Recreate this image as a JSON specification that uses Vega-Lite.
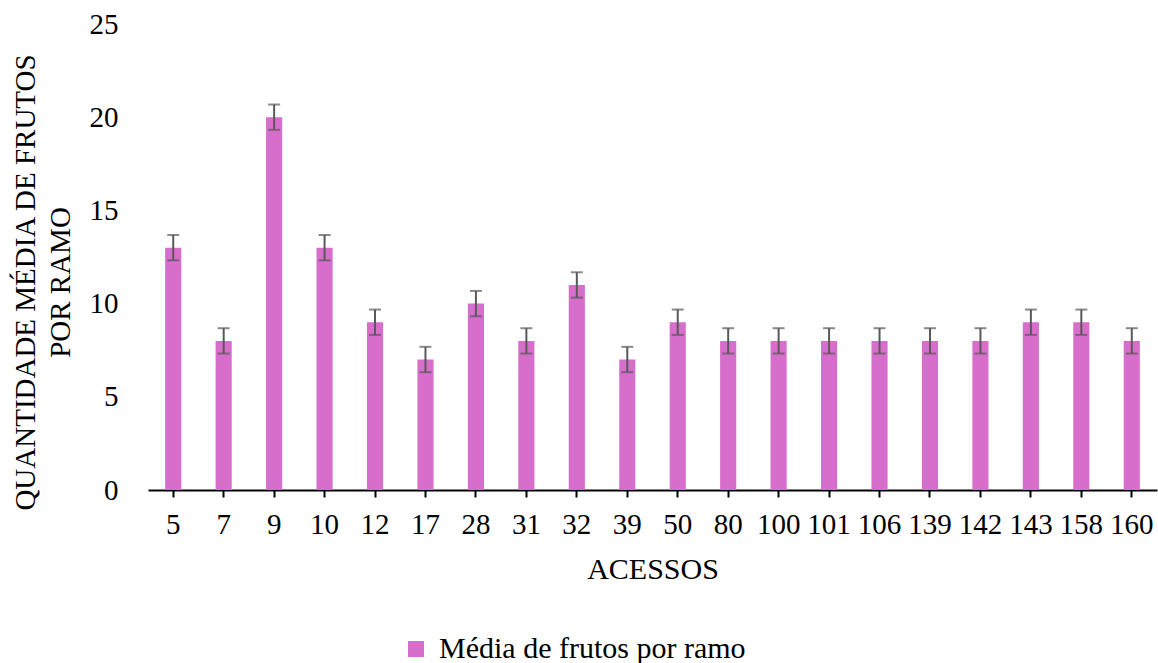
{
  "$schema": "https://vega.github.io/schema/vega-lite/v6.json",
  "width": 1009,
  "height": 466,
  "autosize": {"type": "none"},
  "padding": {"left": 148, "top": 24, "right": 1, "bottom": 173},
  "background": "white",
  "config": {
    "view": {"stroke": null},
    "font": "Liberation Serif",
    "axis": {"labelFont": "Liberation Serif", "titleFont": "Liberation Serif", "labelColor": "black", "titleColor": "black", "titleFontWeight": "normal", "grid": false},
    "legend": {"labelFont": "Liberation Serif", "labelColor": "black"}
  },
  "data": {
    "values": [
      {"acesso": "5", "media": 13, "erro": 0.68, "serie": "Média de frutos por ramo"},
      {"acesso": "7", "media": 8, "erro": 0.68, "serie": "Média de frutos por ramo"},
      {"acesso": "9", "media": 20, "erro": 0.68, "serie": "Média de frutos por ramo"},
      {"acesso": "10", "media": 13, "erro": 0.68, "serie": "Média de frutos por ramo"},
      {"acesso": "12", "media": 9, "erro": 0.68, "serie": "Média de frutos por ramo"},
      {"acesso": "17", "media": 7, "erro": 0.68, "serie": "Média de frutos por ramo"},
      {"acesso": "28", "media": 10, "erro": 0.68, "serie": "Média de frutos por ramo"},
      {"acesso": "31", "media": 8, "erro": 0.68, "serie": "Média de frutos por ramo"},
      {"acesso": "32", "media": 11, "erro": 0.68, "serie": "Média de frutos por ramo"},
      {"acesso": "39", "media": 7, "erro": 0.68, "serie": "Média de frutos por ramo"},
      {"acesso": "50", "media": 9, "erro": 0.68, "serie": "Média de frutos por ramo"},
      {"acesso": "80", "media": 8, "erro": 0.68, "serie": "Média de frutos por ramo"},
      {"acesso": "100", "media": 8, "erro": 0.68, "serie": "Média de frutos por ramo"},
      {"acesso": "101", "media": 8, "erro": 0.68, "serie": "Média de frutos por ramo"},
      {"acesso": "106", "media": 8, "erro": 0.68, "serie": "Média de frutos por ramo"},
      {"acesso": "139", "media": 8, "erro": 0.68, "serie": "Média de frutos por ramo"},
      {"acesso": "142", "media": 8, "erro": 0.68, "serie": "Média de frutos por ramo"},
      {"acesso": "143", "media": 9, "erro": 0.68, "serie": "Média de frutos por ramo"},
      {"acesso": "158", "media": 9, "erro": 0.68, "serie": "Média de frutos por ramo"},
      {"acesso": "160", "media": 8, "erro": 0.68, "serie": "Média de frutos por ramo"}
    ]
  },
  "encoding": {
    "x": {
      "field": "acesso", "type": "nominal", "sort": null,
      "scale": {"paddingInner": 0.68, "paddingOuter": 0.34},
      "axis": {
        "title": "ACESSOS", "titleFontSize": 30, "titlePadding": 15,
        "labelFontSize": 29, "labelAngle": 0, "labelPadding": 13,
        "domainColor": "black", "domainWidth": 2, "tickColor": "black", "tickWidth": 2, "tickSize": 7
      }
    },
    "y": {
      "field": "media", "type": "quantitative",
      "scale": {"domain": [0, 25], "nice": false, "zero": true},
      "axis": {
        "title": ["QUANTIDADE MÉDIA DE FRUTOS", "POR RAMO"],
        "titleFontSize": 29, "titleLineHeight": 35, "titlePadding": 14, "titleY": 258,
        "values": [0, 5, 10, 15, 20, 25],
        "labelFontSize": 29, "labelPadding": 30,
        "domain": false, "ticks": false
      }
    }
  },
  "layer": [
    {
      "mark": {"type": "bar", "color": "#D86ECC"},
      "encoding": {
        "color": {
          "field": "serie", "type": "nominal",
          "scale": {"range": ["#D86ECC"]},
          "legend": {
            "title": null, "orient": "none", "legendX": 253, "legendY": 610,
            "symbolType": "square", "symbolSize": 256, "symbolStrokeWidth": 0,
            "labelFontSize": 30, "labelOffset": 8, "labelLimit": 600, "padding": 0
          }
        }
      }
    },
    {
      "mark": {"type": "errorbar", "color": "#595959", "thickness": 2, "ticks": {"size": 12, "thickness": 2, "color": "#595959"}},
      "encoding": {
        "yError": {"field": "erro"}
      }
    }
  ]
}
